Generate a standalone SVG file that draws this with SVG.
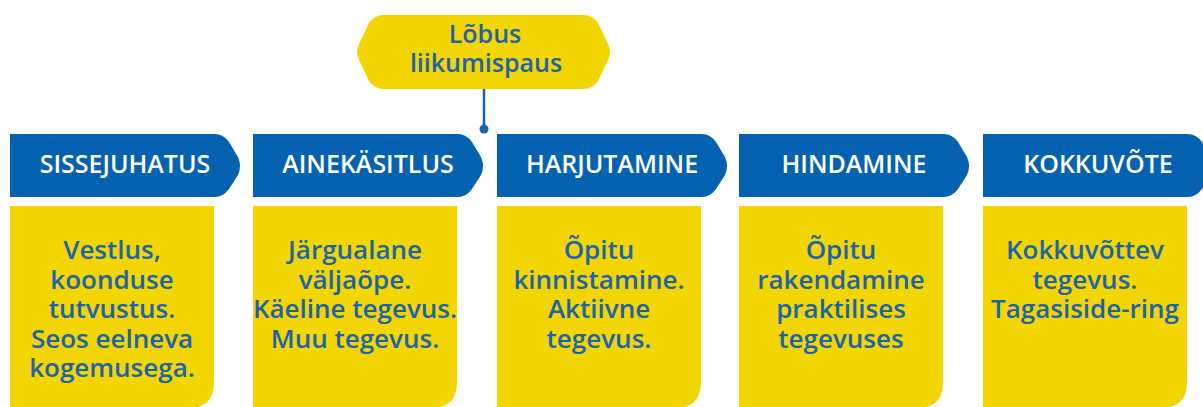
<svg xmlns="http://www.w3.org/2000/svg" width="1203" height="407" viewBox="0 0 1203 407">
<defs>
<style>
.hdr{fill:#0562B1}
.box{fill:#F3D500}
.ht{font-family:"Open Sans","Liberation Sans",sans-serif;font-weight:600;font-size:25px;fill:#FFFFFF;text-anchor:middle}
.bt{font-family:"Open Sans","Liberation Sans",sans-serif;font-weight:600;font-size:26px;fill:#1B63AC;text-anchor:middle}
.con{stroke:#1B63AC;stroke-width:2.5;fill:none}
</style>
<path id="hshape" d="M0,0 H205 Q213,0 219,8 L228,23 Q232,32 228,41 L219,55 Q213,63 205,63 H0 Z"/>
<path id="bshape" d="M0,0 H204 V176 Q204,202 178,202 H0 Z"/>
</defs>

<g id="connectors">
<line class="con" x1="484" y1="89" x2="484" y2="128"/>
<circle cx="484" cy="129" r="4.5" fill="#1B63AC"/>
</g>

<g id="node-pause">
<path class="box" d="M383,15 H584 Q592,15 598,23 L608,44 Q612,52 608,60 L598,81 Q592,89 584,89 H383 Q375,89 369,81 L359,60 Q355,52 359,44 L369,23 Q375,15 383,15 Z"/>
<text class="bt" style="font-size:25px"><tspan x="485" y="43">Lõbus</tspan><tspan x="486" y="72">liikumispaus</tspan></text>
</g>

<g id="node-sissejuhatus">
<use href="#hshape" class="hdr" x="10" y="134"/>
<text class="ht" x="125" y="173">SISSEJUHATUS</text>
<use href="#bshape" class="box" x="10" y="206"/>
<text class="bt"><tspan x="112" y="259">Vestlus,</tspan><tspan x="112" y="289">koonduse</tspan><tspan x="112" y="318">tutvustus.</tspan><tspan x="112" y="348">Seos eelneva</tspan><tspan x="112" y="377">kogemusega.</tspan></text>
</g>

<g id="node-ainekasitlus">
<use href="#hshape" class="hdr" x="253" y="134"/>
<text class="ht" x="368" y="173">AINEKÄSITLUS</text>
<use href="#bshape" class="box" x="253" y="206"/>
<text class="bt"><tspan x="355" y="259">Järgualane</tspan><tspan x="355" y="289">väljaõpe.</tspan><tspan x="355" y="318">Käeline tegevus.</tspan><tspan x="355" y="348">Muu tegevus.</tspan></text>
</g>

<g id="node-harjutamine">
<use href="#hshape" class="hdr" x="497" y="134"/>
<text class="ht" x="612" y="173">HARJUTAMINE</text>
<use href="#bshape" class="box" x="497" y="206"/>
<text class="bt"><tspan x="599" y="259">Õpitu</tspan><tspan x="599" y="289">kinnistamine.</tspan><tspan x="599" y="318">Aktiivne</tspan><tspan x="599" y="348">tegevus.</tspan></text>
</g>

<g id="node-hindamine">
<use href="#hshape" class="hdr" x="739" y="134"/>
<text class="ht" x="854" y="173">HINDAMINE</text>
<use href="#bshape" class="box" x="739" y="206"/>
<text class="bt"><tspan x="841" y="259">Õpitu</tspan><tspan x="841" y="289">rakendamine</tspan><tspan x="841" y="318">praktilises</tspan><tspan x="841" y="348">tegevuses</tspan></text>
</g>

<g id="node-kokkuvote">
<use href="#hshape" class="hdr" x="983" y="134"/>
<text class="ht" x="1098" y="173">KOKKUVÕTE</text>
<use href="#bshape" class="box" x="983" y="206"/>
<text class="bt"><tspan x="1085" y="259">Kokkuvõttev</tspan><tspan x="1085" y="289">tegevus.</tspan><tspan x="1085" y="318">Tagasiside-ring</tspan></text>
</g>
</svg>
